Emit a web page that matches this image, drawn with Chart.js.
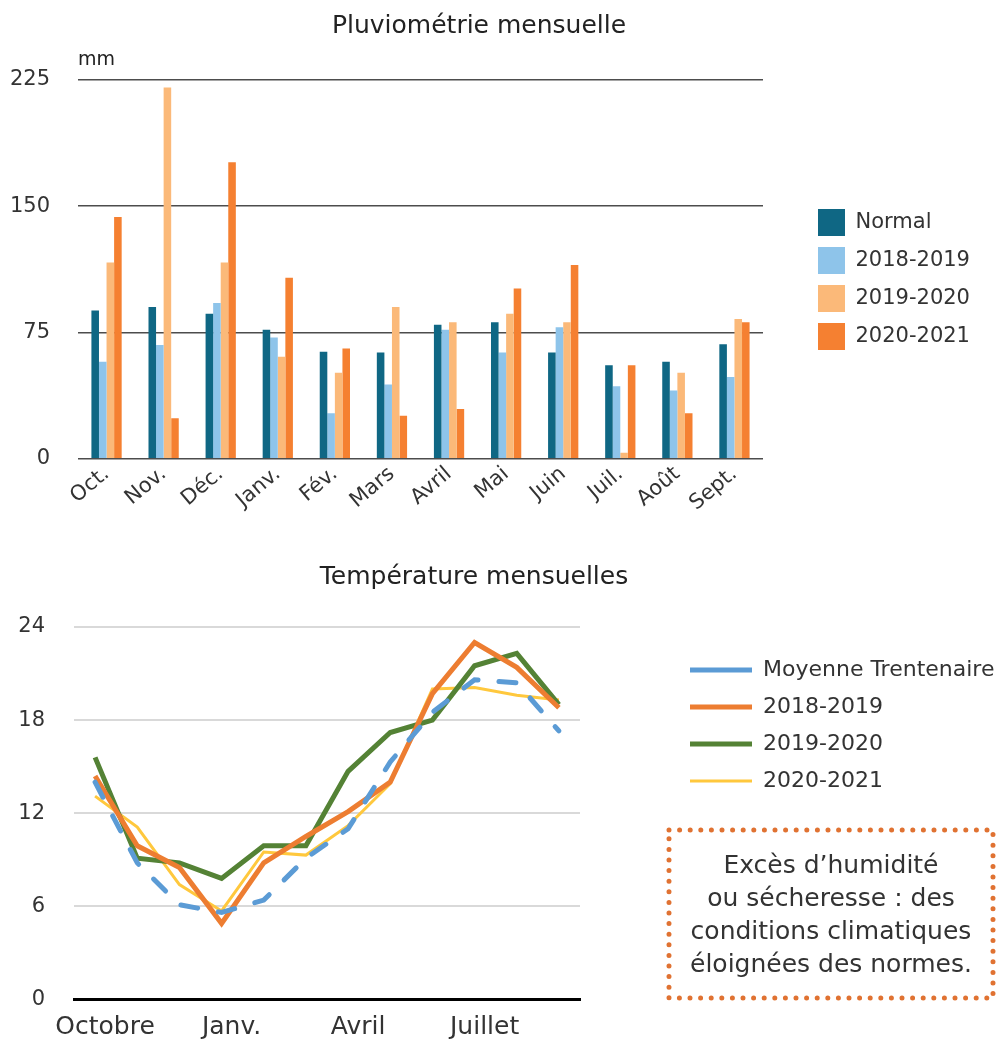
<!DOCTYPE html>
<html>
<head>
<meta charset="utf-8">
<script src="https://cdn.jsdelivr.net/npm/chart.js@4"></script>
<style>
  body { margin: 0; background: #fff; }
  #wrap { position: relative; width: 1008px; height: 1041px; overflow: hidden; }
  #rain { position: absolute; left: 0; top: 0; }
  #temp { position: absolute; left: 0; top: 540px; }
  #dots { position: absolute; left: 664px; top: 825px; }
  #note {
    position: absolute; left: 669px; top: 830px; width: 324px; height: 168px;
    font-family: 'DejaVu Sans', sans-serif; font-size: 25px; line-height: 33px;
    color: #333; text-align: center;
    display: flex; align-items: center; justify-content: center;
  }
</style>
</head>
<body>
<div id="wrap">
  <canvas id="rain" width="1008" height="531"></canvas>
  <canvas id="temp" width="1008" height="501"></canvas>
  <svg id="dots" width="336" height="178">
    <rect x="5" y="5" width="324" height="168" fill="none" stroke="#e07232" stroke-width="5"
      stroke-linecap="round" stroke-dasharray="0 10.6"/>
  </svg>
  <div id="note"><div>Excès d’humidité<br>ou sécheresse : des<br>conditions climatiques<br>éloignées des normes.</div></div>
</div>
<script>
// pluviométrie (mm)
const months = ['Oct.', 'Nov.', 'Déc.', 'Janv.', 'Fév.', 'Mars', 'Avril', 'Mai', 'Juin', 'Juil.', 'Août', 'Sept.'];
const rainNormal = [88, 90, 86, 76.5, 63.5, 63, 79.5, 81, 63, 55.5, 57.5, 68];
const rain1819 = [57.5, 67.5, 92.5, 72, 27, 44, 76.5, 63, 78, 43, 40.5, 48.5];
const rain1920 = [116.5, 220.5, 116.5, 60.5, 51, 90, 81, 86, 81, 3.5, 51, 83];
const rain2021 = [143.5, 24, 176, 107.5, 65.5, 25.5, 29.5, 101, 115, 55.5, 27, 81];

// températures (°C)
const tempLabels = ['Octobre', '', '', 'Janv.', '', '', 'Avril', '', '', 'Juillet', '', ''];
const tempMoyenne = [14.0, 8.8, 6.1, 5.6, 6.4, 9.1, 11.0, 15.3, 18.5, 20.6, 20.4, 17.3];
const temp1819 = [14.4, 9.9, 8.5, 4.9, 8.8, 10.5, 12.1, 14.0, 19.7, 23.0, 21.4, 18.8];
const temp1920 = [15.6, 9.1, 8.8, 7.8, 9.9, 9.9, 14.7, 17.2, 18.0, 21.5, 22.3, 19.0];
const temp2021 = [13.1, 11.1, 7.4, 5.7, 9.5, 9.3, 11.2, 13.9, 20.0, 20.1, 19.6, 19.3];

Chart.defaults.font.family = "'DejaVu Sans', sans-serif";
Chart.defaults.color = '#333';

// lets the legend sit further right / lower than chart.js would put it
const legendShift = {
  id: 'legendShift',
  beforeLayout(chart, args, opts) {
    const lg = chart.legend;
    if (!lg || lg._patched) return;
    const fit = lg.fit;
    lg.fit = function () {
      fit.call(this);
      if (opts.width) this.width = opts.width;
    };
    lg._patched = true;
  },
  afterLayout(chart, args, opts) {
    const lg = chart.legend;
    lg.left += opts.dx || 0;
    lg.right += opts.dx || 0;
    lg.top += opts.dy || 0;
    lg.bottom += opts.dy || 0;
  }
};

new Chart(document.getElementById('rain'), {
  type: 'bar',
  data: {
    labels: months,
    datasets: [
      { label: 'Normal', data: rainNormal, backgroundColor: '#0f6784' },
      { label: '2018-2019', data: rain1819, backgroundColor: '#8ec4ea' },
      { label: '2019-2020', data: rain1920, backgroundColor: '#fbb979' },
      { label: '2020-2021', data: rain2021, backgroundColor: '#f58031' }
    ]
  },
  options: {
    responsive: false,
    animation: false,
    devicePixelRatio: 1,
    layout: { padding: { left: 10, right: 60, top: 0, bottom: 12 } },
    datasets: { bar: { categoryPercentage: 0.53, barPercentage: 1.0 } },
    plugins: {
      title: { display: true, text: 'Pluviométrie mensuelle', color: '#222',
        font: { size: 25, weight: 'normal' }, padding: { top: 11, bottom: 8 } },
      subtitle: { display: true, text: 'mm', align: 'start', fullSize: false, color: '#222',
        font: { size: 19 }, padding: { top: 0, bottom: 8 } },
      legend: { position: 'right', align: 'center',
        labels: { boxWidth: 27, boxHeight: 27, font: { size: 21 }, color: '#333', padding: 11 } },
      legendShift: { width: 185, dx: 44, dy: 20 },
      tooltip: { enabled: false }
    },
    scales: {
      x: {
        grid: { display: false, drawTicks: false },
        border: { display: false },
        ticks: { autoSkip: false, minRotation: 40, maxRotation: 40, font: { size: 21 }, color: '#333' },
        afterFit: (scale) => { scale.paddingLeft = 0; }
      },
      y: {
        min: 0, max: 225,
        ticks: { stepSize: 75, font: { size: 21 }, color: '#333', padding: 28 },
        grid: { color: '#4d4d4d', lineWidth: 1.5, drawTicks: false },
        border: { display: false },
        afterFit: (scale) => { scale.width = 68; }
      }
    }
  },
  plugins: [legendShift]
});

new Chart(document.getElementById('temp'), {
  type: 'line',
  data: {
    labels: tempLabels,
    datasets: [
      { label: 'Moyenne Trentenaire', data: tempMoyenne, borderColor: '#5b9bd5', borderWidth: 5,
        borderDash: [17, 21], borderCapStyle: 'round' },
      { label: '2018-2019', data: temp1819, borderColor: '#ed7d31', borderWidth: 5 },
      { label: '2019-2020', data: temp1920, borderColor: '#548235', borderWidth: 5 },
      { label: '2020-2021', data: temp2021, borderColor: '#ffc83d', borderWidth: 3 }
    ]
  },
  options: {
    responsive: false,
    animation: false,
    devicePixelRatio: 1,
    layout: { padding: { left: 8, right: 68, top: 0, bottom: 0 } },
    elements: { point: { radius: 0 }, line: { tension: 0, fill: false } },
    plugins: {
      title: { display: true, text: 'Température mensuelles', color: '#222',
        font: { size: 25, weight: 'normal' }, padding: { top: 22, bottom: 35 } },
      legend: { position: 'right', align: 'start',
        labels: { usePointStyle: true, pointStyle: 'line', pointStyleWidth: 62,
          font: { size: 22 }, color: '#333', padding: 15 } },
      legendShift: { width: 360, dx: 95, dy: 104 },
      tooltip: { enabled: false }
    },
    scales: {
      x: {
        offset: true,
        grid: { display: false, drawTicks: false },
        border: { display: true, color: '#000', width: 3 },
        ticks: { autoSkip: false, maxRotation: 0, font: { size: 25 }, color: '#333', padding: 13, labelOffset: 10 },
        afterFit: (scale) => { scale.height = 40; }
      },
      y: {
        min: 0, max: 24,
        ticks: { stepSize: 6, font: { size: 21 }, color: '#333', padding: 29 },
        grid: { color: '#d9d9d9', lineWidth: 2, drawTicks: false },
        border: { display: false },
        afterFit: (scale) => { scale.width = 66; }
      }
    }
  },
  plugins: [legendShift]
});
</script>
</body>
</html>
